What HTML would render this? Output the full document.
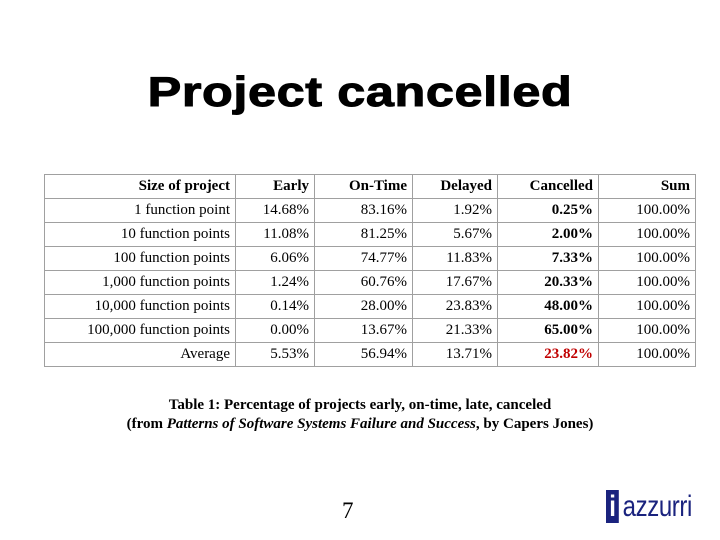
<!DOCTYPE html>
<html><head><meta charset="utf-8"><style>
body{margin:0;width:720px;height:540px;background:#fff;position:relative;overflow:hidden;font-family:"Liberation Serif",serif}
#title{position:absolute;left:0;width:720px;top:68px;text-align:center;font:bold 42px "Liberation Sans",sans-serif;color:#000;letter-spacing:0.5px;transform:scaleX(1.2);transform-origin:360px 0;-webkit-text-stroke:1px #000}
table{position:absolute;left:44px;top:174px;border-collapse:collapse;font-size:15px}
td{border:1px solid #a0a0a0;height:23px;padding:0 5px 0 0;text-align:right;white-space:nowrap}
.h td{font-weight:bold}
.b{font-weight:bold}.r{color:#c00000}
#cap{position:absolute;left:0;width:720px;top:396px;text-align:center;font:bold 15px "Liberation Serif",serif;line-height:19px}
#pn{position:absolute;left:342px;top:498px;font-size:23px}
#logo{position:absolute;left:606px;top:490px;font:30px "Liberation Sans",sans-serif;color:#1a237e;transform:scaleX(0.8);transform-origin:0 0;letter-spacing:-0.5px}
</style></head><body>
<div id="title">Project cancelled</div>
<table id="t">
<colgroup><col style="width:191px"><col style="width:79px"><col style="width:98px"><col style="width:85px"><col style="width:101px"><col style="width:97px"></colgroup>
<tbody id="tb"></tbody></table>
<div id="cap">Table 1: Percentage of projects early, on-time, late, canceled<br>(from <i>Patterns of Software Systems Failure and Success</i>, by Capers Jones)</div>
<div id="pn">7</div>
<div id="logo"><span style="background:#1a237e;color:#fff;padding:0 4px;margin-right:5px;font-weight:bold">i</span>azzurri</div>
<script>
const headers=["Size of project","Early","On-Time","Delayed","Cancelled","Sum"];
const sizes=["1 function point","10 function points","100 function points","1,000 function points","10,000 function points","100,000 function points","Average"];
const early=["14.68%","11.08%","6.06%","1.24%","0.14%","0.00%","5.53%"];
const onTime=["83.16%","81.25%","74.77%","60.76%","28.00%","13.67%","56.94%"];
const delayed=["1.92%","5.67%","11.83%","17.67%","23.83%","21.33%","13.71%"];
const cancelled=["0.25%","2.00%","7.33%","20.33%","48.00%","65.00%","23.82%"];
const sums=["100.00%","100.00%","100.00%","100.00%","100.00%","100.00%","100.00%"];
const tb=document.getElementById('tb');
let tr=document.createElement('tr');tr.className='h';


headers.forEach(h=>{const td=document.createElement('td');td.textContent=h;


tr.appendChild(td);});tb.appendChild(tr);
sizes.forEach((s,i)=>{const r=document.createElement('tr');


[s,early[i],onTime[i],delayed[i],cancelled[i],sums[i]].forEach((v,j)=>{const td=document.createElement('td');td.textContent=v;


if(j==4){td.className='b'+(i==sizes.length-1?' r':'');}
r.appendChild(td);});tb.appendChild(r);});
</script>
</body></html>
